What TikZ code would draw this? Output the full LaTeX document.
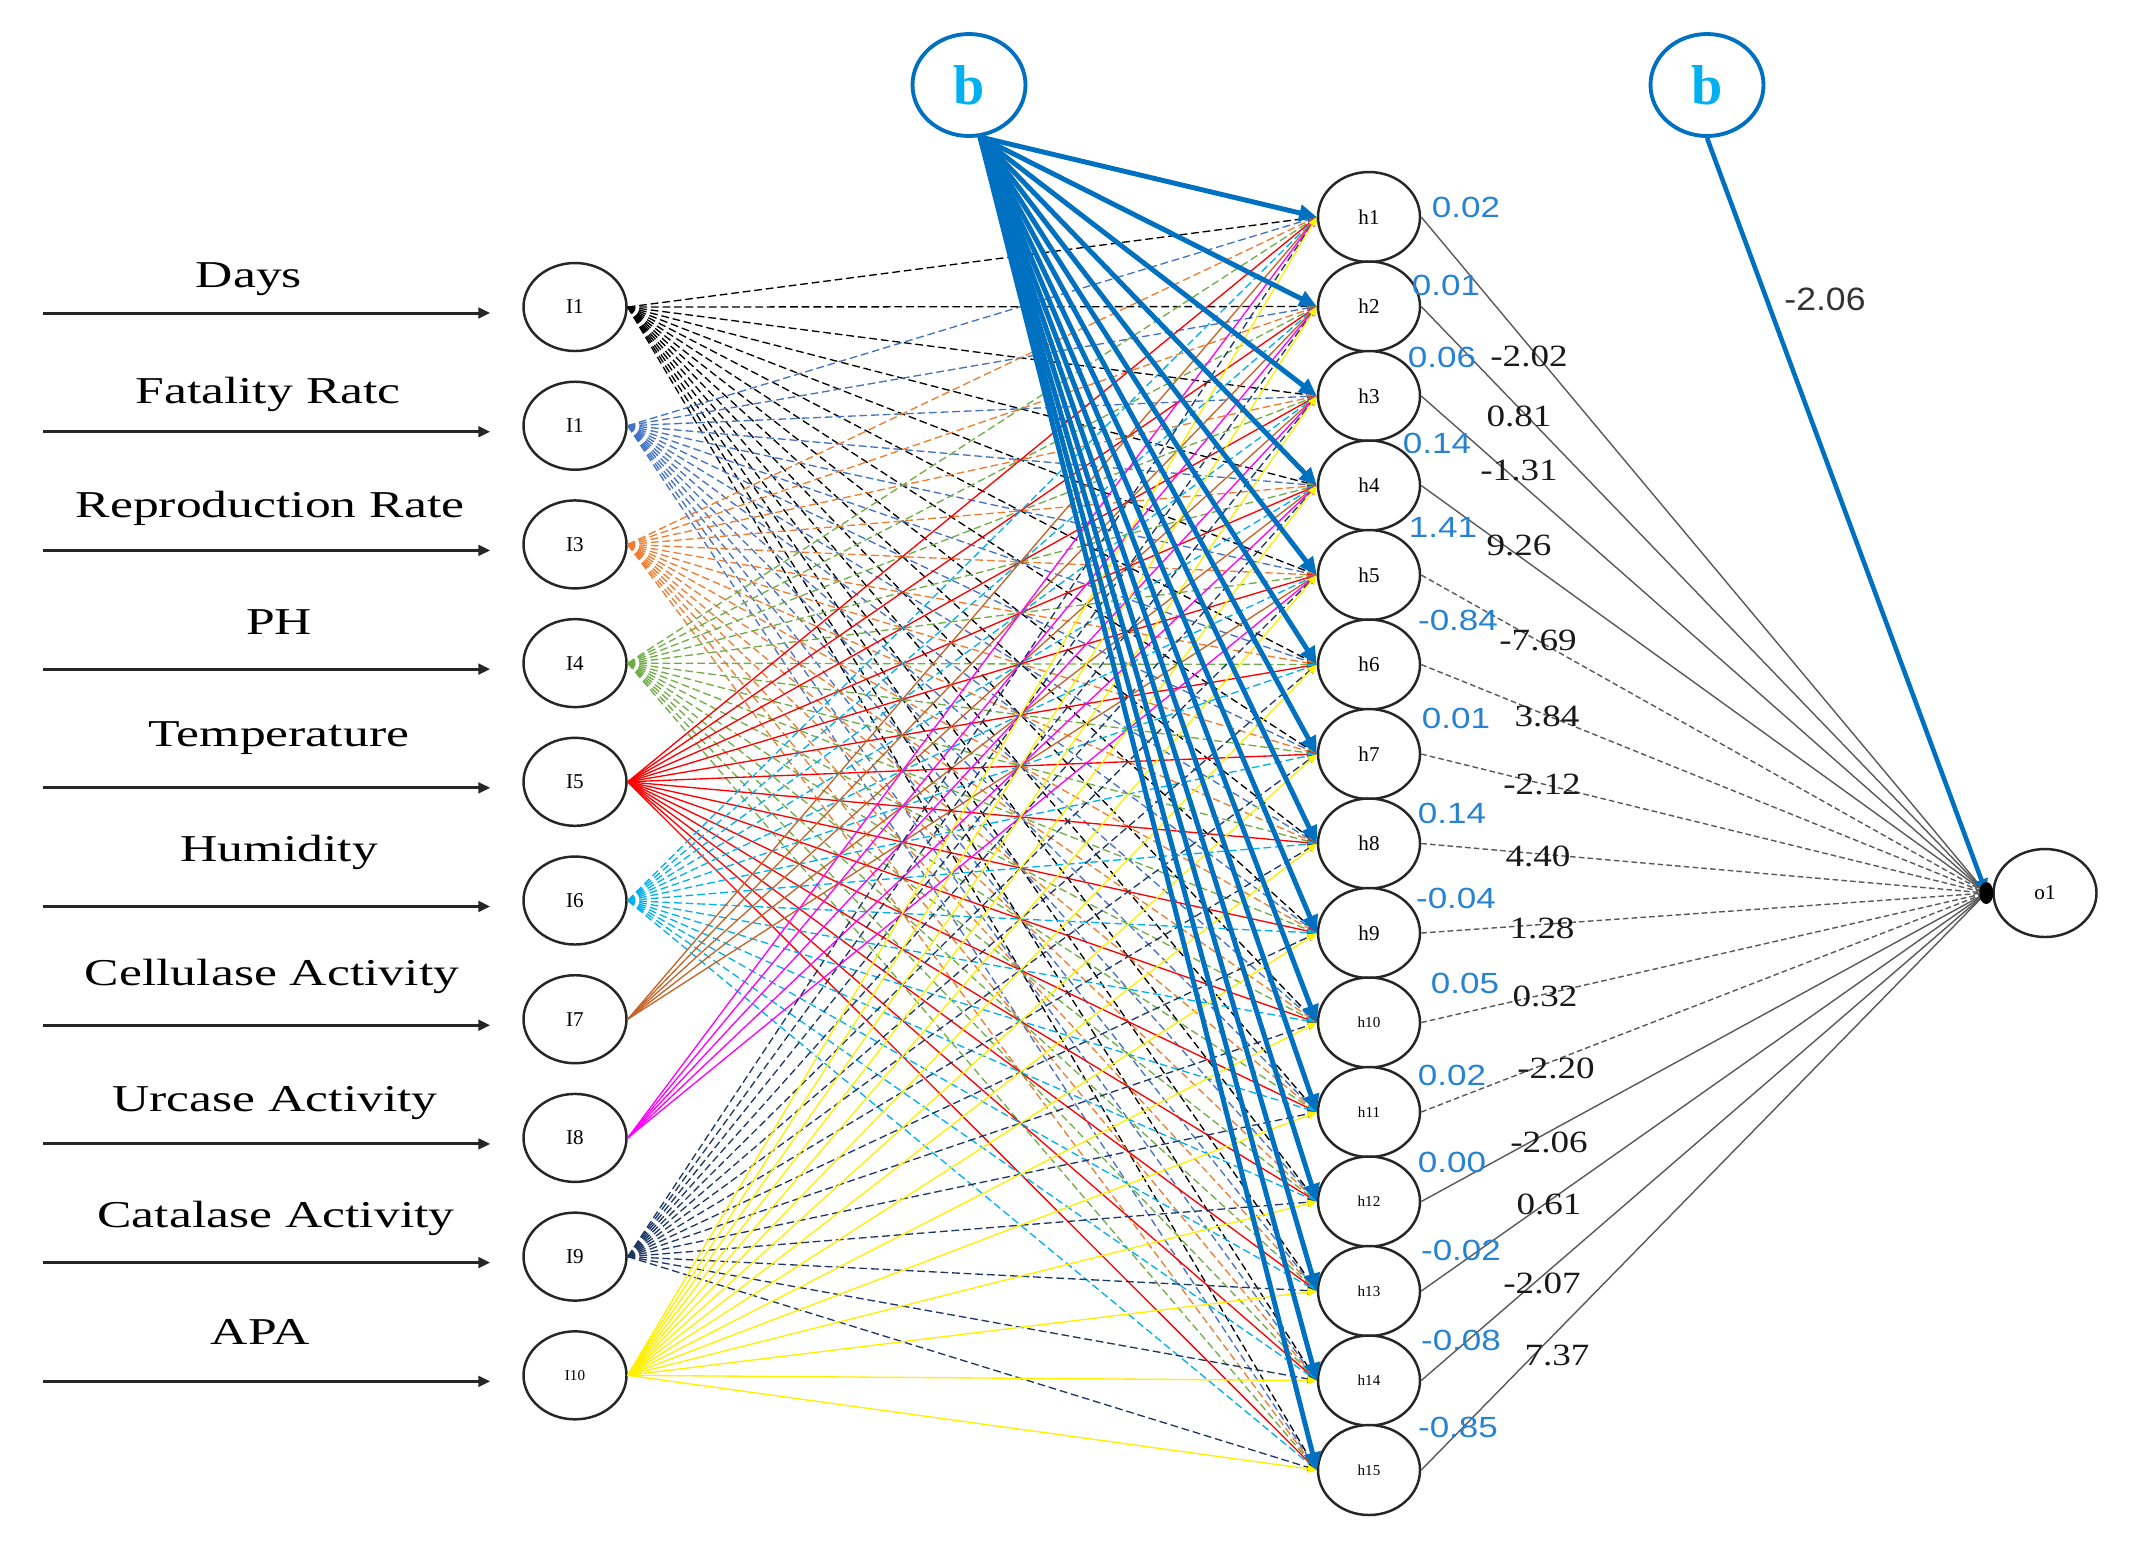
\documentclass[tikz,border=0pt]{standalone}
\usepackage{fontspec}
\setmainfont{Liberation Serif}
\newfontfamily\sansf{Liberation Sans}
\usetikzlibrary{arrows.meta,shapes.geometric,calc}
\definecolor{biasblue}{RGB}{0,112,192}
\definecolor{bcyan}{RGB}{0,176,240}
\definecolor{wblue}{RGB}{40,130,210}
\definecolor{cIa}{RGB}{0,0,0}
\definecolor{cIb}{RGB}{68,114,196}
\definecolor{cIc}{RGB}{237,125,49}
\definecolor{cId}{RGB}{112,173,71}
\definecolor{cIe}{RGB}{255,0,0}
\definecolor{cIf}{RGB}{0,176,240}
\definecolor{cIg}{RGB}{197,100,40}
\definecolor{cIh}{RGB}{255,0,255}
\definecolor{cIi}{RGB}{31,56,100}
\definecolor{cIj}{RGB}{255,240,0}
\newcommand{\sx}[2]{\scalebox{#1}[1]{#2}}
\begin{document}
\begin{tikzpicture}[x=0.1mm,y=-0.1mm,
  innode/.style={ellipse,draw=black!85,line width=0.7pt,fill=white,minimum width=10.3mm,minimum height=8.8mm,inner sep=0pt,font=\fontsize{6}{7}\selectfont},
  hnode/.style={ellipse,draw=black!85,line width=0.7pt,fill=white,minimum width=10.2mm,minimum height=9.0mm,inner sep=0pt,font=\fontsize{6}{7}\selectfont},
  smalllab/.style={font=\fontsize{4.3}{5}\selectfont},
  biasnode/.style={ellipse,draw=biasblue,line width=1.1pt,fill=white,minimum width=11.3mm,minimum height=10.2mm,inner sep=0pt,text=bcyan,font=\fontsize{16}{18}\selectfont\bfseries},
  inarrow/.style={line width=0.85pt,black!85,-{Triangle[length=3.4pt,width=3pt]},shorten >=3.2mm},
  inlab/.style={font=\fontsize{10.8}{13}\selectfont,inner sep=0pt},
  thinw/.style={line width=0.38pt,-{Triangle[length=2.6pt,width=2.4pt]}},
  dsh/.style={dash pattern=on 2.2pt off 1.1pt},
  sld/.style={},
  biasarrow/.style={biasblue,line width=1.4pt,-{Triangle[length=5pt,width=4.6pt]}},
  outline/.style={black!65,line width=0.4pt},
  odsh/.style={dash pattern=on 1.6pt off 0.9pt},
  bw/.style={text=wblue,font=\sansf\fontsize{8.3}{9}\selectfont,inner sep=0pt},
  kw/.style={text=black!90,font=\fontsize{8.8}{10}\selectfont,inner sep=0pt}
]
\useasboundingbox (0,0) rectangle (2131,1553);

% input nodes
\node[innode] (I1) at (575,307.0) {I1};
\node[innode] (I2) at (575,425.7) {I1};
\node[innode] (I3) at (575,544.4) {I3};
\node[innode] (I4) at (575,663.1) {I4};
\node[innode] (I5) at (575,781.8) {I5};
\node[innode] (I6) at (575,900.5) {I6};
\node[innode] (I7) at (575,1019.2) {I7};
\node[innode] (I8) at (575,1137.9) {I8};
\node[innode] (I9) at (575,1256.6) {I9};
\node[innode,smalllab] (I10) at (575,1375.3) {I10};

% hidden nodes
\node[hnode] (h1) at (1369,217.0) {h1};
\node[hnode] (h2) at (1369,306.5) {h2};
\node[hnode] (h3) at (1369,396.0) {h3};
\node[hnode] (h4) at (1369,485.5) {h4};
\node[hnode] (h5) at (1369,575.0) {h5};
\node[hnode] (h6) at (1369,664.5) {h6};
\node[hnode] (h7) at (1369,754.0) {h7};
\node[hnode] (h8) at (1369,843.5) {h8};
\node[hnode] (h9) at (1369,933.0) {h9};
\node[hnode,smalllab] (h10) at (1369,1022.5) {h10};
\node[hnode,smalllab] (h11) at (1369,1112.0) {h11};
\node[hnode,smalllab] (h12) at (1369,1201.5) {h12};
\node[hnode,smalllab] (h13) at (1369,1291.0) {h13};
\node[hnode,smalllab] (h14) at (1369,1380.5) {h14};
\node[hnode,smalllab] (h15) at (1369,1470.0) {h15};

% bias and output nodes
\node[biasnode] (b1) at (969,85) {b};
\node[biasnode] (b2) at (1707,85) {b};
\node[innode] (o1) at (2045,893) {o1};
\coordinate (dot) at ($(o1.west)+(-6,0)$);

% input arrows and labels
\foreach \i in {1,...,10}{
  \coordinate (s\i) at (43,{307+118.7*(\i-1)+6});
  \draw[inarrow] (s\i) -- (s\i -| I\i.west);
}
\node[inlab] (L1) at (249,279) {\sx{1.36}{Days}};
\node[inlab] (L2) at (268,394) {\sx{1.36}{Fatality Ratc}};
\node[inlab] (L3) at (270,508) {\sx{1.36}{Reproduction Rate}};
\node[inlab] (L4) at (279,622) {\sx{1.36}{PH}};
\node[inlab] (L5) at (279,738) {\sx{1.36}{Temperature}};
\node[inlab] (L6) at (279,852) {\sx{1.36}{Humidity}};
\node[inlab] (L7) at (272,976) {\sx{1.36}{Cellulase Activity}};
\node[inlab] (L8) at (275,1103) {\sx{1.36}{Urcase Activity}};
\node[inlab] (L9) at (276,1218) {\sx{1.36}{Catalase Activity}};
\node[inlab] (L10) at (260,1332) {\sx{1.36}{APA}};

% input -> hidden connections
\foreach \i/\c/\d/\n in {1/cIa/dsh/15,2/cIb/dsh/15,3/cIc/dsh/15,4/cId/dsh/15,5/cIe/sld/15,6/cIf/dsh/15,7/cIg/sld/5,8/cIh/sld/5,9/cIi/dsh/15,10/cIj/sld/15}{
  \foreach \j in {1,...,\n}{
    \draw[thinw,\c,\d] (I\i.east) -- (h\j.west);
  }
}

% bias -> hidden arrows
\foreach \j in {1,...,15}{
  \draw[biasarrow] (b1.-78) -- (h\j.west);
}

% hidden -> output lines
\foreach \j/\d in {1/sld,2/sld,3/sld,4/sld,5/odsh,6/odsh,7/odsh,8/odsh,9/odsh,10/odsh,11/odsh,12/sld,13/sld,14/sld,15/sld}{
  \draw[outline,\d] (h\j.east) -- (dot);
}
\draw[biasblue,line width=1.3pt,-{Triangle[length=4pt,width=3.6pt]}] (b2.south) -- (dot);
\fill[black] (dot) ellipse [x radius=7,y radius=11];

% bias weights (blue)
\node[bw] (w1) at (1466,207) {\sx{1.2}{0.02}};
\node[bw] (w2) at (1446,285) {\sx{1.2}{0.01}};
\node[bw] (w3) at (1442,357) {\sx{1.2}{0.06}};
\node[bw] (w4) at (1437,443) {\sx{1.2}{0.14}};
\node[bw] (w5) at (1443,527) {\sx{1.2}{1.41}};
\node[bw] (w6) at (1458,620) {\sx{1.2}{-0.84}};
\node[bw] (w7) at (1456,718) {\sx{1.2}{0.01}};
\node[bw] (w8) at (1452,813) {\sx{1.2}{0.14}};
\node[bw] (w9) at (1456,898) {\sx{1.2}{-0.04}};
\node[bw] (w10) at (1465,983) {\sx{1.2}{0.05}};
\node[bw] (w11) at (1452,1075) {\sx{1.2}{0.02}};
\node[bw] (w12) at (1452,1162) {\sx{1.2}{0.00}};
\node[bw] (w13) at (1461,1250) {\sx{1.2}{-0.02}};
\node[bw] (w14) at (1461,1340) {\sx{1.2}{-0.08}};
\node[bw] (w15) at (1458,1427) {\sx{1.2}{-0.85}};

% hidden -> output weights (black)
\node[kw] (k1) at (1529,356) {\sx{1.2}{-2.02}};
\node[kw] (k2) at (1519,416) {\sx{1.2}{0.81}};
\node[kw] (k3) at (1519,470) {\sx{1.2}{-1.31}};
\node[kw] (k4) at (1519,545) {\sx{1.2}{9.26}};
\node[kw] (k5) at (1538,640) {\sx{1.2}{-7.69}};
\node[kw] (k6) at (1547,716) {\sx{1.2}{3.84}};
\node[kw] (k7) at (1542,784) {\sx{1.2}{-2.12}};
\node[kw] (k8) at (1538,856) {\sx{1.2}{4.40}};
\node[kw] (k9) at (1542,928) {\sx{1.2}{1.28}};
\node[kw] (k10) at (1545,996) {\sx{1.2}{0.32}};
\node[kw] (k11) at (1556,1068) {\sx{1.2}{-2.20}};
\node[kw] (k12) at (1549,1142) {\sx{1.2}{-2.06}};
\node[kw] (k13) at (1549,1204) {\sx{1.2}{0.61}};
\node[kw] (k14) at (1542,1283) {\sx{1.2}{-2.07}};
\node[kw] (k15) at (1557,1355) {\sx{1.2}{7.37}};
\node[inner sep=0pt,text=black!80,font=\sansf\fontsize{9.2}{10}\selectfont] (kb) at (1825,299) {\sx{1.1}{-2.06}};
\end{tikzpicture}
\end{document}
